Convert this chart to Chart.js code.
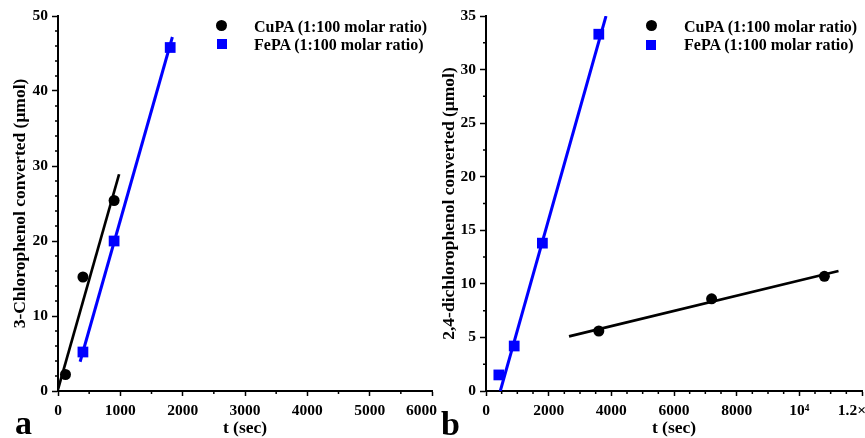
<!DOCTYPE html>
<html>
<head>
<meta charset="utf-8">
<script src="https://cdn.jsdelivr.net/npm/chart.js@4/dist/chart.umd.min.js"></script>
<style>
html, body { margin:0; padding:0; background:#fff; width:865px; height:438px; overflow:hidden; }
body { position:relative; }
canvas { position:absolute; top:0; }
#cA { left:0; }
#cB { left:425px; }
.lab { position:absolute; font:bold 34px/34px 'Liberation Serif', 'Times New Roman', serif; color:#000; }
.legtxt { position:absolute; font:bold 16px/18px 'Liberation Serif', 'Times New Roman', serif; color:#000; white-space:nowrap; }
.mk { position:absolute; }
</style>
</head>
<body>
<canvas id="cA" width="440" height="438"></canvas>
<canvas id="cB" width="500" height="438"></canvas>
<div class="lab" style="left:15px;top:406px">a</div>
<div class="lab" style="left:441px;top:407px">b</div>
<script>
// ---- series labels / colours ----
const seriesNames = ['CuPA (1:100 molar ratio)', 'FePA (1:100 molar ratio)'];
const seriesColors = ['#000000', '#0000ff'];

// ---- panel a : 3-chlorophenol ----
const timeCuA = [120, 400, 900];
const molCuA  = [2.2, 15.2, 25.4];
const timeFeA = [400, 900, 1800];
const molFeA  = [5.2, 20.0, 45.8];
const fitTimeCuA = [0, 980];
const fitMolCuA  = [0.2, 28.9];
const fitTimeFeA = [355, 1835];
const fitMolFeA  = [3.9, 47.2];
const xTicksA = [0, 1000, 2000, 3000, 4000, 5000, 6000];
const yTicksA = [0, 10, 20, 30, 40, 50];

// ---- panel b : 2,4-dichlorophenol ----
const timeCuB = [3600, 7200, 10800];
const molCuB  = [5.6, 8.6, 10.7];
const timeFeB = [410, 900, 1800, 3600];
const molFeB  = [1.5, 4.2, 13.8, 33.3];
const fitTimeCuB = [2650, 11250];
const fitMolCuB  = [5.1, 11.2];
const fitTimeFeB = [456, 3830];
const fitMolFeB  = [0, 35];
const xTicksB = [0, 2000, 4000, 6000, 8000, 10000, 12000];
const xTickLabelsB = ['0', '2000', '4000', '6000', '8000', '10\u2074', '1.2\u00d710\u2074'];
const yTicksB = [0, 5, 10, 15, 20, 25, 30, 35];

const FAM = "'Liberation Serif', 'Times New Roman', serif";
const tickFont = { family: FAM, size: 15.5, weight: 'bold', lineHeight: 1.2 };
const titleFont = { family: FAM, size: 17.5, weight: 'bold', lineHeight: 1 };

const zip = (xs, ys) => xs.map((x, i) => ({ x: x, y: ys[i] }));

const minorTicks = {
  id: 'minorTicks',
  afterDraw(chart, args, opts) {
    const ctx = chart.ctx, xs = chart.scales.x, ys = chart.scales.y;
    ctx.save();
    ctx.strokeStyle = '#000';
    ctx.lineWidth = 1.5;
    ctx.beginPath();
    const xMaj = xs.ticks.map(t => t.value), yMaj = ys.ticks.map(t => t.value);
    for (let v = xs.min + opts.x; v < xs.max; v += opts.x) {
      if (xMaj.some(m => Math.abs(m - v) < 1e-6)) continue;
      const p = xs.getPixelForValue(v);
      ctx.moveTo(p, xs.top); ctx.lineTo(p, xs.top + opts.len);
    }
    for (let v = ys.min + opts.y; v < ys.max; v += opts.y) {
      if (yMaj.some(m => Math.abs(m - v) < 1e-6)) continue;
      const p = ys.getPixelForValue(v);
      ctx.moveTo(ys.right, p); ctx.lineTo(ys.right - opts.len, p);
    }
    ctx.stroke();
    ctx.restore();
  }
};

const shiftLast = {
  id: 'shiftLast',
  beforeDraw(chart, args, opts) {
    if (!opts || !opts.dx) return;
    const items = chart.scales.x.getLabelItems(chart.chartArea);
    const it = items[items.length - 1];
    if (it && !it.__shifted) { it.options.translation[0] += opts.dx; it.__shifted = true; }
  }
};

function fitSize(size, horiz) {
  return function (scale) {
    if (horiz) scale.height = size; else scale.width = size;
    scale.paddingLeft = 0; scale.paddingRight = 0; scale.paddingTop = 0; scale.paddingBottom = 0;
  };
}

function datasets(tCu, mCu, tFe, mFe, ftCu, fmCu, ftFe, fmFe) {
  return [
    { label: seriesNames[0], data: zip(tCu, mCu), showLine: false, pointStyle: 'circle', pointRadius: 5.5,
      backgroundColor: seriesColors[0], borderColor: seriesColors[0], pointBorderWidth: 0 },
    { label: seriesNames[1], data: zip(tFe, mFe), showLine: false, pointStyle: 'rect', pointRadius: 7.6,
      backgroundColor: seriesColors[1], borderColor: seriesColors[1], pointBorderWidth: 0 },
    { label: 'fit Cu', data: zip(ftCu, fmCu), showLine: true, pointRadius: 0, borderColor: seriesColors[0],
      borderWidth: 2.7, fill: false },
    { label: 'fit Fe', data: zip(ftFe, fmFe), showLine: true, pointRadius: 0, borderColor: seriesColors[1],
      borderWidth: 3, fill: false }
  ];
}

function makeChart(id, cfg) {
  return new Chart(document.getElementById(id), {
    type: 'scatter',
    data: { datasets: cfg.datasets },
    options: {
      responsive: false, animation: false, devicePixelRatio: 1,
      layout: { padding: cfg.padding },
      plugins: { legend: { display: false }, tooltip: { enabled: false },
                 minorTicks: { x: cfg.xMinor, y: cfg.yMinor, len: 3 },
                 shiftLast: { dx: cfg.shiftDx } },
      scales: {
        x: {
          type: 'linear', position: 'bottom', min: cfg.xTicks[0], max: cfg.xTicks[cfg.xTicks.length - 1],
          afterBuildTicks: s => { s.ticks = cfg.xTicks.map(v => ({ value: v })); },
          afterFit: fitSize(47, true),
          ticks: { autoSkip: false, maxRotation: 0, padding: 6, color: '#000', font: tickFont,
                   callback: (v, i) => cfg.xLabels[i] },
          grid: { drawOnChartArea: false, drawTicks: true, tickLength: 5, tickColor: '#000', tickWidth: 1.5 },
          border: { display: true, color: '#000', width: 2 },
          title: { display: true, text: 't (sec)', color: '#000', font: titleFont, padding: { top: 0, bottom: 0.5 } }
        },
        y: {
          type: 'linear', position: 'left', min: cfg.yTicks[0], max: cfg.yTicks[cfg.yTicks.length - 1],
          afterBuildTicks: s => { s.ticks = cfg.yTicks.map(v => ({ value: v })); },
          afterFit: fitSize(cfg.yWidth, false),
          ticks: { padding: 4, color: '#000', font: tickFont, callback: v => String(v) },
          grid: { drawOnChartArea: false, drawTicks: true, tickLength: 6, tickColor: '#000', tickWidth: 1.5 },
          border: { display: true, color: '#000', width: 2 },
          title: { display: true, text: cfg.yTitle, color: '#000', font: titleFont, padding: { top: cfg.yTitlePad, bottom: 0 } }
        }
      }
    },
    plugins: [minorTicks, shiftLast]
  });
}

makeChart('cA', {
  datasets: datasets(timeCuA, molCuA, timeFeA, molFeA, fitTimeCuA, fitMolCuA, fitTimeFeA, fitMolFeA),
  padding: { left: 0, top: 16, right: 8, bottom: 0 },
  xTicks: xTicksA, xLabels: xTicksA.map(String), yTicks: yTicksA,
  xMinor: 500, yMinor: 2, yWidth: 58, yTitle: '3-Chlorophenol converted (\u03bcmol)', yTitlePad: 11.25,
  shiftDx: -10.5
});

makeChart('cB', {
  datasets: datasets(timeCuB, molCuB, timeFeB, molFeB, fitTimeCuB, fitMolCuB, fitTimeFeB, fitMolFeB),
  padding: { left: 0, top: 16, right: 63, bottom: 0 },
  xTicks: xTicksB, xLabels: xTickLabelsB, yTicks: yTicksB,
  xMinor: 500, yMinor: 2.5, yWidth: 61, yTitle: '2,4-dichlorophenol converted (\u03bcmol)', yTitlePad: 15.25,
  shiftDx: 0
});

// ---- HTML legends ----
function legend(markerX, textX, rowsY, textRowsY) {
  seriesNames.forEach((name, i) => {
    const m = document.createElement('div');
    m.className = 'mk';
    const s = i === 0 ? 11 : 10;
    m.style.width = s + 'px'; m.style.height = s + 'px';
    m.style.left = (markerX - s / 2) + 'px'; m.style.top = (rowsY[i] - s / 2) + 'px';
    m.style.background = seriesColors[i];
    if (i === 0) m.style.borderRadius = '50%';
    document.body.appendChild(m);
    const t = document.createElement('div');
    t.className = 'legtxt';
    t.textContent = name;
    t.style.left = textX + 'px'; t.style.top = (textRowsY[i] - 9) + 'px';
    document.body.appendChild(t);
  });
}
legend(221.5, 254, [25.8, 43.8], [27, 44.5]);
legend(651.3, 684, [25.7, 44.5], [27, 44.5]);
</script>
</body>
</html>
